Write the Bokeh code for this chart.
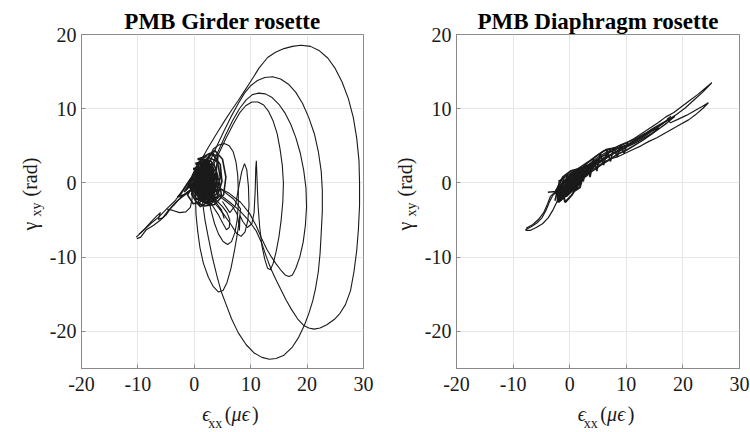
import math
from bokeh.plotting import figure
from bokeh.models import Range1d, FixedTicker
from bokeh.layouts import row, column
from bokeh.core.properties import value
from bokeh.embed import file_html
from bokeh.resources import INLINE

# ---------------- data ----------------
x_ticks = [-20, -10, 0, 10, 20, 30]
x_tick_labels = ["-20", "-10", "0", "10", "20", "30"]
y_ticks = [-20, -10, 0, 10, 20]
y_tick_labels = ["-20", "-10", "0", "10", "20"]

titles = ["PMB Girder rosette", "PMB Diaphragm rosette"]

# Girder rosette trajectory pieces
g1_x = [-10.3,-9.0,-7.6,-6.3,-4.9,-3.4,-2.0,-0.5,1.0,2.5,4.0,5.4,6.6,7.8,9.0,10.1,11.5,13.0,14.4,15.9,17.4,18.9,20.6,22.2,23.7,25.0,26.2,27.3,28.2,28.8,29.2,29.3,29.3,29.1,28.8,28.3,27.7,26.8,25.8,24.8,23.5,22.3,21.25,20.3,19.4,18.3,17.2,16.3,15.3,14.4,13.6,12.8,12.0,11.0,9.6,8.0,6.3,4.6,3.2]
g1_y = [-7.3,-6.4,-5.4,-4.6,-3.5,-2.4,-0.9,0.8,2.8,4.8,6.7,8.4,9.8,11.1,12.5,13.8,15.5,16.9,17.6,18.1,18.4,18.55,18.4,17.8,16.8,15.4,13.6,11.4,8.8,6.0,3.0,0.0,-3.0,-6.2,-9.1,-12.0,-14.5,-16.4,-17.6,-18.4,-19.1,-19.55,-19.7,-19.55,-19.2,-18.3,-17.0,-15.8,-14.3,-12.9,-11.6,-10.0,-8.2,-6.5,-5.0,-3.7,-2.6,-1.6,-0.8]

g2_x = [1.5,2.7,3.9,5.2,6.5,7.8,8.9,10.0,11.2,12.5,13.9,15.3,16.7,18.0,19.2,20.3,21.3,22.0,22.5,22.7,22.7,22.5,22.3,22.0,21.5,21.0,20.3,19.5,18.5,17.3,15.9,14.5,13.3,12.0,10.6,9.2,7.8,6.6,5.6,4.8,4.0,3.2,2.5,1.9,1.5,1.3]
g2_y = [0.8,2.8,4.8,6.9,8.9,10.7,12.1,13.1,13.8,14.2,14.3,14.0,13.3,12.2,10.7,8.8,6.6,4.2,1.6,-1.0,-3.8,-6.8,-9.5,-11.9,-14.2,-15.9,-17.6,-19.2,-20.8,-22.2,-23.2,-23.65,-23.75,-23.5,-22.9,-21.8,-20.2,-18.3,-16.3,-14.7,-12.5,-10.0,-7.4,-5.0,-2.8,-1.0]

g3_x = [1.8,3.0,4.2,5.5,6.8,8.0,9.2,10.3,11.4,12.6,13.8,15.0,16.1,17.1,18.0,18.8,19.4,19.8,19.9,19.7,19.3,18.7,18.0,17.4,16.8,16.1,15.3,14.5,13.7,12.9,12.0,11.0,9.8,8.2,6.2,4.0]
g3_y = [0.3,2.2,4.2,6.4,8.4,10.0,11.2,11.9,12.1,12.0,11.5,10.6,9.4,7.9,6.1,4.0,1.7,-0.7,-3.2,-5.7,-8.0,-10.0,-11.5,-12.4,-12.6,-12.4,-11.7,-10.9,-10.0,-9.0,-7.6,-5.8,-4.1,-2.6,-1.4,-0.5]

g4_x = [2.0,3.1,4.3,5.6,6.9,8.0,9.1,10.2,11.3,12.3,13.2,14.0,14.7,15.2,15.6,15.8,15.7,15.4,15.0,14.5,14.0,13.5,13.0,12.5,12.0,11.6,11.3,11.15,11.05,11.0,10.9,10.8,10.6,10.2,9.4,8.6,8.1,8.05,8.0,7.9,7.6,6.8,5.5,4.0]
g4_y = [0.2,1.9,3.9,6.0,7.9,9.4,10.4,10.9,10.9,10.5,9.6,8.3,6.6,4.6,2.4,0.0,-2.5,-5.0,-7.3,-9.3,-10.8,-11.7,-11.5,-10.3,-8.5,-6.0,-3.0,0.0,2.0,3.0,2.0,-1.0,-4.0,-5.5,-6.0,-5.2,-4.4,-5.5,-6.4,-5.5,-4.2,-3.2,-2.4,-1.5]

g5_x = [2.6,3.4,4.3,5.3,6.2,6.9,7.4,7.7,7.8,7.8,7.6,7.2,6.6,5.9,5.1,4.3,3.6,3.0,2.5]
g5_y = [3.5,4.6,5.1,5.3,5.0,4.2,2.8,1.0,-1.0,-3.0,-5.0,-6.7,-7.9,-8.3,-7.9,-6.9,-5.5,-3.8,-2.0]

g6_x = [5.0,6.3,7.3,7.9,8.4,8.9,9.3,9.6,9.7,9.5,9.0,8.3,7.5,6.5,5.0,3.5]
g6_y = [-2.5,-4.0,-3.0,-0.5,1.5,2.6,1.8,-0.5,-3.0,-5.0,-6.6,-7.2,-6.8,-5.6,-4.0,-2.6]

g7_x = [0.2,0.3,0.6,1.0,1.6,2.5,3.3,4.3,5.1,5.8,6.5,7.1,7.6,8.0,8.2,7.0,5.0,3.0]
g7_y = [-1.5,-4.2,-6.5,-8.7,-10.8,-12.7,-13.9,-14.7,-14.5,-13.4,-11.5,-9.2,-7.0,-5.0,-3.5,-2.2,-1.0,0.0]

g8_x = [1.5,3.0,4.2,5.1,5.7,6.2,6.3,5.8,5.0,4.0,3.0,4.2,5.1,5.3,4.8,3.8,2.6]
g8_y = [-1.2,-2.8,-4.2,-5.5,-6.3,-6.0,-5.0,-4.0,-3.2,-2.4,-1.6,-3.0,-4.2,-4.8,-3.6,-2.6,-1.8]

g_tail1_x = [-10.2,-9.5,-8.5,-7.2,-6.0,-5.0,-4.0,-3.0,-1.8,-0.5,0.8]
g_tail1_y = [-7.5,-7.3,-6.3,-5.7,-5.0,-4.3,-3.2,-2.4,-1.7,-1.0,-0.3]
g_tail2_x = [-9.8,-8.8,-7.5,-6.6,-6.0,-6.4,-5.6,-4.6,-3.5,-2.5,-1.2,0.3]
g_tail2_y = [-6.9,-6.2,-5.1,-4.4,-4.0,-4.9,-4.7,-3.7,-2.9,-2.0,-1.2,-0.6]
g_tail3_x = [-4.9,-3.8,-2.6,-1.5,-0.7,-0.4,-0.3,0.2]
g_tail3_y = [-3.5,-3.7,-4.0,-3.9,-3.3,-2.2,-0.8,0.2]

g_core_x = [0.2,1.5,3.2,4.6,4.9,4.0,2.3,0.8,0.0,0.9, 2.6,4.1,4.6,3.9,2.2,0.6,0.3,1.2,2.9,3.9,
            4.0,3.0,1.4,0.3,0.6,2.0,3.5,4.2,3.6,2.0, 0.8,0.5,1.6,3.0,3.7,3.1,1.6,0.7,1.0,2.3,
            3.3,3.2,2.1,1.0,0.9,1.9,2.9,3.0,2.2,1.3, 1.2,2.1,2.6,2.1,1.4,1.8,2.4,1.0,-0.5,-1.8,
            -0.6,1.2,2.5,3.6,5.0,5.6,5.2,3.6,1.8,0.4, -0.5,0.5,2.4,1.5,0.6,1.1,2.7,3.4,2.8,1.9,
            0.8,0.1,1.0,2.6,2.0,1.1,1.6,2.9,2.0,0.4]
g_core_y = [-0.5,2.8,3.9,2.5,0.2,-2.0,-2.8,-2.2,-0.4,2.0, 3.4,2.9,0.8,-1.5,-2.5,-1.8,0.0,2.1,3.0,1.9,
            -0.2,-2.0,-2.3,-1.0,1.1,2.6,2.5,0.9,-1.2,-2.1, -1.5,0.4,2.2,2.2,0.6,-1.3,-1.9,-0.8,1.0,2.0,
            1.2,-0.6,-1.6,-1.2,0.4,1.7,1.3,-0.3,-1.2,-0.8, 0.6,1.2,0.3,-0.7,-0.2,0.7,0.2,1.8,0.2,-1.2,
            -0.3,1.5,3.6,4.4,3.2,0.8,-1.6,-2.9,-3.1,-2.6, -1.5,0.8,1.1,-0.5,-2.8,-3.2,-2.4,-0.3,1.9,3.2,
            2.4,0.6,-1.8,-1.0,0.9,0.2,-1.2,0.6,2.4,1.4]
g_core2_x = [-1.5,0.5,2.2,3.4,3.2,1.8,0.2,-0.8,0.8,2.6, 3.0,2.0,0.6,0.4,1.8,2.4,1.2,1.0,2.2,1.5,
             0.0,-1.0,0.6,1.8,2.8,4.2,3.8,2.4,1.0,-0.2, -1.2,0.2,1.4,2.8,3.6,2.6,1.4,0.8,1.6,3.2,
             4.4,4.8,3.2,1.6,2.0,1.2,0.2,-0.6,-2.4,-3.0, -1.8,-0.4,1.0,2.3,1.7,2.5,1.3]
g_core2_y = [-1.0,1.8,2.9,2.0,-0.8,-2.6,-2.0,-0.6,1.2,2.2, 0.2,-1.8,-1.4,0.6,1.6,-0.2,-1.0,0.8,0.6,-1.6,
             -1.2,-0.2,2.6,3.6,4.0,3.6,1.2,-1.4,-2.6,-2.8, -1.6,0.2,0.4,-0.6,-2.4,-3.0,-2.0,-0.2,1.0,1.6,
             0.4,-1.6,-2.6,-0.4,1.4,2.4,1.2,0.6,-1.5,-1.9, -1.6,-0.8,0.0,0.9,0.1,-1.0,-1.4]
g_core3_x = [-0.4,1.0,0.2,1.8,0.8,2.6,1.4,3.2,2.0,3.8, 2.8,4.0,3.4,1.0,3.6,0.4,3.0,-0.2,2.2,-0.6,
             1.4,0.0,2.4,0.6,2.8,1.2,3.4]
g_core3_y = [-1.0,2.0,-1.8,2.2,-2.4,2.0,-2.4,1.6,-2.2,1.0, -2.0,0.0,-1.6,-0.2,1.8,0.8,2.4,0.2,2.6,-0.6,
             2.4,-1.4,0.4,1.4,-1.0,-2.0,0.6]
g_core4_x = [0.0,4.2,0.2,4.4,0.4,4.2,0.2,3.8,0.0,3.6,-0.2,3.2,0.2,2.8,0.6,2.2]
g_core4_y = [-2.2,-2.0,-1.4,-1.0,-0.6,0.0,0.4,0.9,1.2,1.6,1.9,2.3,2.6,3.0,3.2,3.6]

# Diaphragm rosette trajectory pieces
d1_x = [-7.84,-6.8,-5.8,-4.9,-4.2,-3.6,-3.0,-2.1,-1.0,0.4,1.6,2.8,4.0,5.2,6.4,7.6,8.8,10.0,11.4,12.8,14.2,15.6,17.0,18.4,19.8,21.2,22.6,24.0,25.1,
        23.6,22.0,20.4,18.8,17.2,15.6,14.0,12.4,10.8,9.2,7.6,6.2,4.8,3.4,2.0,0.8,-0.4,-1.4,-2.3,-3.0,-3.8,-4.8,-5.9,-7.0,-7.8]
d1_y = [-6.3,-5.9,-5.4,-4.7,-3.7,-2.6,-1.7,-1.0,-0.4,0.6,1.3,2.0,2.9,3.6,4.1,4.5,4.9,5.4,6.0,6.7,7.4,8.1,8.9,9.5,10.3,11.1,11.9,12.8,13.5,
        12.3,11.2,10.1,9.2,8.4,7.6,6.9,6.1,5.4,4.7,4.0,3.2,2.6,1.8,1.0,0.2,-0.6,-1.5,-2.6,-3.7,-4.7,-5.5,-6.0,-6.4,-6.4]

d2_x = [-1.2,0.0,1.4,2.8,4.2,5.6,7.0,8.4,9.8,11.2,12.6,14.0,15.4,16.8,18.2,19.6,21.0,22.4,23.6,24.5,
        23.4,22.0,20.6,19.2,17.8,17.2,17.9,17.0,15.6,14.2,12.8,11.4,10.0,8.6,7.2,5.8,4.4,3.0,1.6,0.2,-1.0]
d2_y = [-1.0,-0.4,0.3,1.1,1.9,2.6,3.2,3.5,4.0,4.5,5.0,5.6,6.1,6.7,7.3,7.9,8.5,9.3,10.1,10.8,
        10.3,9.7,9.1,8.6,8.1,8.6,9.0,8.3,7.5,6.8,6.1,5.5,4.9,4.3,3.7,3.0,2.3,1.5,0.6,-0.3,-1.2]

d3_x = [-2.0,-0.6,0.8,2.2,3.6,5.0,6.4,7.8,9.2,10.6,12.0,13.4,14.8,16.2,17.6,18.6,17.2,15.8,14.4,13.0,11.6,10.2,8.8,7.4,6.0,4.6,3.2,1.8,0.4,-1.0]
d3_y = [0.2,0.9,1.6,2.3,3.0,3.8,4.5,4.7,5.2,5.6,6.1,6.7,7.4,8.0,8.6,9.0,8.1,7.3,6.6,6.0,5.4,4.9,4.3,3.9,3.3,2.5,1.7,0.9,0.1,-0.6]

d_core_x = [-2.5,-1.2,0.2,1.6,2.6,1.4,0.0,-1.4,-2.0,-1.0, 0.4,1.8,2.2,0.8,-0.6,-1.6,-0.4,1.0,2.4,3.2,
            1.8,0.2,-1.2,-2.2,-1.4,0.0,1.4,2.8,3.8,2.6, 1.0,-0.4,-1.8,-0.8,0.6,2.0,3.4,4.6,3.0,1.2,
            -0.2,-1.6,-2.6,-1.8,-0.6,0.8,1.6,0.4,-0.8,-1.2, 0.0,1.2,2.4,1.8,0.6]
d_core_y = [-1.2,0.8,1.6,1.9,1.2,-0.4,-1.3,-2.2,-2.6,-0.6, 0.8,1.4,0.5,-0.8,-1.8,-1.6,0.2,1.2,1.7,1.5,
            0.0,-1.0,-2.0,-1.8,-0.2,1.0,1.6,2.2,2.4,0.8, -0.4,-1.4,-2.4,-1.2,0.0,0.8,1.8,2.6,1.0,0.2,
            -0.6,-1.2,-1.4,-0.6,0.4,0.6,-0.2,-1.6,-2.6,-1.4, -0.2,0.8,1.0,-0.6,-1.2]
d_core2_x = [-2.2,-0.8,0.8,2.2,3.6,2.8,1.2,-0.4,-1.8,-2.4, -1.0,0.6,2.0,3.0,1.6,0.0,-1.4,-0.6,1.0,2.6,
             4.0,5.4,4.4,3.0,1.6,0.2,-1.0,-2.0,-0.2,1.4]
d_core2_y = [-2.0,-0.6,0.6,1.4,2.2,1.0,-0.2,-1.4,-2.4,-1.0, 0.2,1.2,2.0,2.0,0.4,-0.8,-1.8,-0.4,0.8,1.6,
             2.6,3.4,2.6,1.8,1.0,0.0,-1.0,-2.2,-0.2,1.4]
d_core3_x = [-2.6,-1.8,-2.2,-1.0,-1.6,-0.4,-1.0,0.2,-0.4,0.8, 0.2,0.6,1.2,1.8,2.4,3.0,3.6,4.2,4.8,5.4,
             6.0,6.6,7.2,7.8,8.4,9.0,9.6,10.2]
d_core3_y = [-2.4,0.2,-2.6,0.8,-2.4,1.2,-2.0,1.4,-1.4,1.6, -1.0,1.5,-0.3,1.8,0.2,2.4,0.8,3.2,1.6,4.0,
             2.4,4.4,2.9,4.8,3.5,5.1,4.0,5.4]

d5_x = [1.5,3.0,4.5,6.0,7.3,6.5,5.0,3.5,2.5,4.0,5.5,7.0,8.5,10.0,11.5,13.0,14.5,15.8,14.6,13.2,11.8,10.4,9.0,7.5,6.0,4.6,3.2,2.0]
d5_y = [1.5,2.6,3.5,4.3,4.6,3.6,2.8,2.0,1.0,1.6,2.4,3.1,3.9,4.4,5.1,5.8,6.6,7.4,7.1,6.4,5.9,5.2,4.8,4.3,3.7,3.0,2.4,1.6]

d_stub_x = [-3.86, -1.9]
d_stub_y = [-1.25, -1.1]

d_tail_x = [-7.7,-6.5,-5.5,-4.6,-3.9,-3.4,-2.6,-1.6]
d_tail_y = [-6.1,-5.6,-4.9,-4.0,-2.8,-1.8,-1.2,-0.5]

# (x, y, line width) for each piece
girder_paths = [(g1_x, g1_y, 1.1), (g2_x, g2_y, 1.1), (g3_x, g3_y, 1.1), (g4_x, g4_y, 1.1),
                (g5_x, g5_y, 1.1), (g6_x, g6_y, 1.1), (g7_x, g7_y, 1.1), (g8_x, g8_y, 1.1),
                (g_tail1_x, g_tail1_y, 1.2), (g_tail2_x, g_tail2_y, 1.2), (g_tail3_x, g_tail3_y, 1.1),
                (g_core_x, g_core_y, 1.6), (g_core2_x, g_core2_y, 1.6), (g_core3_x, g_core3_y, 2.2),
                (g_core4_x, g_core4_y, 2.2)]
diaphragm_paths = [(d1_x, d1_y, 1.2), (d2_x, d2_y, 1.2), (d3_x, d3_y, 1.4),
                   (d_core_x, d_core_y, 2.0), (d_core2_x, d_core2_y, 2.0), (d_core3_x, d_core3_y, 1.6),
                   (d5_x, d5_y, 1.6), (d_stub_x, d_stub_y, 1.4), (d_tail_x, d_tail_y, 1.2)]

# ---------------- styling / layout ----------------
SERIF = "Liberation Serif"
AXIS_GREY = "#8a8a8a"
LINE_COLOR = "#1a1a1a"
TEXT_COLOR = "#1a1a1a"
X0, X1, Y0, Y1 = -20, 30, -25, 20
YLAB_W = 46           # width of the strip holding the rotated y label
MAIN_H = 402          # height of the plotting figure (frame 34..368)
XLAB_H = 432 - MAIN_H  # strip holding the x label


def text_strip(width, height, x_from, y_from):
    """A bare figure whose data coordinates equal canvas pixels (y downwards)."""
    s = figure(width=width, height=height,
               x_range=Range1d(x_from, x_from + width), y_range=Range1d(y_from + height, y_from),
               x_axis_location=None, y_axis_location=None,
               output_backend="svg", toolbar_location=None,
               min_border=0, min_border_left=0, min_border_right=0,
               min_border_top=0, min_border_bottom=0)
    s.grid.visible = False
    s.outline_line_color = None
    s.background_fill_color = "white"
    s.border_fill_color = "white"
    return s


def put_text(s, txt, x, y, size, angle=0.0, style="normal"):
    s.text(x=[x], y=[y], text=[txt], text_font=value(SERIF), text_font_size=value(f"{size}px"),
           text_font_style=value(style), text_color=TEXT_COLOR, angle=angle,
           text_align="left", text_baseline="alphabetic")


def make_panel(title, paths, right_border):
    p = figure(width=375 - YLAB_W, height=MAIN_H, x_range=Range1d(X0, X1), y_range=Range1d(Y0, Y1),
               output_backend="svg", toolbar_location=None,
               min_border_left=79 - YLAB_W, min_border_right=right_border,
               min_border_top=34, min_border_bottom=MAIN_H - 368)
    p.title.text = title
    p.title.align = "center"
    p.title.text_font = SERIF
    p.title.text_font_size = "23px"
    p.title.text_font_style = "bold"
    p.title.text_color = "black"
    p.title.standoff = 2

    p.xaxis.ticker = FixedTicker(ticks=x_ticks)
    p.yaxis.ticker = FixedTicker(ticks=y_ticks)
    p.xaxis.major_label_overrides = {t: l for t, l in zip(x_ticks, x_tick_labels)}
    p.yaxis.major_label_overrides = {t: l for t, l in zip(y_ticks, y_tick_labels)}
    for ax in (p.xaxis, p.yaxis):
        ax.major_label_text_font = SERIF
        ax.major_label_text_font_size = "20px"
        ax.major_label_text_color = TEXT_COLOR
        ax.axis_line_color = AXIS_GREY
        ax.major_tick_line_color = AXIS_GREY
        ax.major_tick_in = 4
        ax.major_tick_out = 0
        ax.minor_tick_line_color = None
    p.xaxis.major_label_standoff = 8
    p.yaxis.major_label_standoff = 5

    p.xgrid.grid_line_color = "#e6e6e6"
    p.ygrid.grid_line_color = "#e6e6e6"
    p.outline_line_color = AXIS_GREY
    p.background_fill_color = "white"
    p.border_fill_color = "white"

    for xs, ys, w in paths:
        p.line(xs, ys, line_color=LINE_COLOR, line_width=w)

    # x-axis label strip: eps_xx (mu eps)
    xl = text_strip(375 - YLAB_W, XLAB_H, YLAB_W, MAIN_H)
    put_text(xl, "\u03f5", 187, 413, 20, style="italic")
    put_text(xl, "xx", 194, 423, 14)
    put_text(xl, "(", 213, 413, 20)
    put_text(xl, "\u03bc", 221, 413, 20, style="italic")
    put_text(xl, "\u03f5", 233, 413, 20, style="italic")
    put_text(xl, ")", 245, 413, 20)

    # y-axis label strip: gamma_xy (rad), rotated
    yl = text_strip(YLAB_W, 432, 0, 0)
    up = math.pi / 2
    put_text(yl, "\u03b3", 29, 230, 20, angle=up)
    put_text(yl, "xy", 36, 216, 14, angle=up)
    put_text(yl, "(rad)", 29, 196, 20, angle=up)

    return row(yl, column(p, xl))


panel1 = make_panel(titles[0], girder_paths, 12)
panel2 = make_panel(titles[1], diaphragm_paths, 11)
layout = row(panel1, panel2)

open("out.html", "w").write(file_html(layout, INLINE))
